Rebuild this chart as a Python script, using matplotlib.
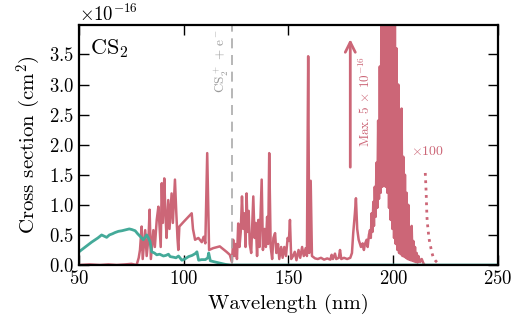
import numpy as np
import matplotlib
matplotlib.use("Agg")
import matplotlib.pyplot as plt

plt.rcParams['font.family'] = 'cmr10'
plt.rcParams['mathtext.fontset'] = 'cm'
plt.rcParams['axes.formatter.use_mathtext'] = True
plt.rcParams['axes.unicode_minus'] = False

RED = '#CC6677'
TEAL = '#44AA99'

# photoabsorption cross section (units of 1e-16 cm^2)
red_wl = [50, 55, 60, 64, 68, 72, 75, 77.5, 78.5, 79.1, 79.9, 80.4, 81.0, 81.6, 82.3, 83.2,
          83.7, 84.3, 85.5, 86.2, 87.1, 87.9, 88.5, 89.0, 89.5, 90.0, 90.7, 91.2, 91.8, 92.6,
          93.2, 94.2, 94.8, 95.8, 96.4, 97.0, 97.4, 97.9, 100.0, 103.8, 104.4, 105.4, 107.0,
          108.6, 109.5, 110.3, 111.2, 112.1, 114.0, 117.2, 120.4, 122.0, 123.0, 123.6, 124.2,
          124.8, 125.4, 126.0, 126.6, 127.2, 127.8, 128.4, 129.0, 129.5, 130.0, 130.5, 131.0,
          131.5, 132.2, 133.2, 133.8, 134.4, 135.0, 135.6, 136.2, 137.2, 137.8, 138.6, 139.2,
          139.8, 140.3, 140.8, 141.5, 142.2, 142.8, 143.6, 144.2, 145.0, 145.6, 146.5, 147.2,
          148.0, 148.8, 149.6, 150.2, 150.7, 151.3, 152.2, 153.0, 153.8, 154.8, 155.6, 156.5,
          157.3, 158.2, 158.8, 159.4, 159.9, 160.6, 161.2, 162.7, 164.0, 165.5, 167.0, 168.5,
          170.0, 170.6, 171.2, 172.2, 172.8, 174.0, 174.6, 175.2, 176.5, 178.0, 179.5, 180.3,
          180.9, 181.7, 182.2, 182.8, 183.5, 184.6, 185.4, 186.0, 186.5, 187.3, 187.8, 188.4,
          188.9, 189.3, 189.7, 190.1, 190.5, 190.8, 191.2, 191.6, 192.0, 192.4, 192.8, 193.2,
          193.6, 194.0, 194.4, 194.8, 195.2, 195.6, 196.0, 196.4, 196.8, 197.2, 197.6, 198.0,
          198.4, 198.8, 199.2, 199.6, 200.0, 200.4, 200.8, 201.2, 201.6, 202.0, 202.4, 202.8,
          203.2, 203.6, 204.0, 204.4, 204.8, 205.2, 205.6, 206.0, 206.4, 206.8, 207.2, 207.6,
          208.0, 208.4, 208.8, 209.2, 209.6, 210.0, 210.4, 210.8, 211.2, 211.6, 212.0, 212.8,
          213.6, 214.4, 215.0]
red_val = [0.0, 0.01, 0.0, 0.01, 0.0, 0.01, 0.02, 0.0, 0.12, 0.25, 0.64, 0.1, 0.35, 0.58, 0.15, 0.47,
           0.92, 0.1, 0.58, 0.3, 0.75, 0.97, 0.6, 0.3, 1.36, 0.7, 1.44, 0.9, 0.45, 1.08,
           0.6, 1.19, 0.7, 1.42, 0.9, 0.45, 0.25, 0.64, 0.72, 0.86, 0.6, 0.42, 0.45,
           0.38, 0.47, 0.36, 1.86, 0.25, 0.28, 0.31, 0.22, 0.17, 0.05, 0.42, 0.15,
           0.35, 0.1, 0.69, 0.3, 0.55, 1.14, 0.6, 0.86, 0.3, 1.19, 0.55, 0.9,
           0.35, 0.2, 1.14, 0.45, 0.7, 0.15, 0.75, 0.3, 1.42, 0.25, 0.6, 0.3,
           0.8, 0.35, 1.86, 0.3, 0.1, 0.45, 0.53, 0.2, 0.35, 0.1, 0.3, 0.12,
           0.3, 0.15, 0.45, 0.4, 0.75, 0.1, 0.15, 0.22, 0.08, 0.25, 0.12, 0.3,
           0.15, 0.28, 0.15, 3.47, 0.2, 1.40, 0.15, 0.11, 0.1, 0.12, 0.09, 0.11,
           0.09, 0.17, 0.1, 0.19, 0.1, 0.12, 0.25, 0.1, 0.12, 0.1, 0.12, 0.2,
           0.53, 0.86, 1.11, 0.6, 0.42, 0.3, 0.36, 0.25, 0.35, 0.42, 0.3, 0.5,
           0.58, 0.45, 0.86, 0.55, 1.05, 0.65, 1.3, 0.8, 1.7, 0.95, 2.4, 1.1,
           3.3, 1.2, 4.5, 1.3, 5.0, 1.35, 4.8, 1.3, 4.9, 1.2, 4.5, 0.95,
           4.7, 0.75, 4.2, 0.6, 4.4, 0.45, 4.0, 0.35, 3.6, 0.25, 3.0, 0.2,
           2.1, 0.18, 2.6, 0.15, 1.8, 0.14, 1.5, 0.12, 1.2, 0.1, 1.0, 0.09,
           0.6, 0.08, 0.65, 0.07, 0.4, 0.06, 0.3, 0.05, 0.2, 0.04, 0.15, 0.05,
           0.1, 0.03, 0.0]

# photoionization cross section
teal_wl = [50, 53, 56, 59, 60.8, 62, 63.2, 64.5, 66, 67.2, 68.8, 70.5, 72.8, 74, 75.2, 76.8,
           78, 79.1, 80.7, 82.3, 83.1, 83.9, 84.7, 86, 87.1, 88.5, 90.3, 91.5, 92.7, 93.5,
           95.1, 96.3, 97.5, 99.1, 100.5, 102.3, 104, 105.5, 106.3, 107.1, 108.5, 110.3,
           111.5, 111.9, 112.7, 115, 117.5, 120, 122.3, 250]
teal_val = [0.22, 0.3, 0.38, 0.45, 0.5, 0.48, 0.46, 0.5, 0.52, 0.54, 0.56, 0.57, 0.59, 0.6, 0.59, 0.57,
            0.52, 0.48, 0.42, 0.5, 0.45, 0.39, 0.22, 0.2, 0.17, 0.18, 0.15, 0.16, 0.18, 0.14,
            0.13, 0.12, 0.15, 0.08, 0.1, 0.14, 0.16, 0.19, 0.22, 0.08, 0.09, 0.09,
            0.12, 0.2, 0.07, 0.05, 0.03, 0.01, 0.0, 0.0]

# tail multiplied by 100
tail_wl = [215.3, 215.4, 215.5, 215.6, 215.7, 215.8, 215.9, 216.0, 216.1, 216.3, 216.6, 216.9,
           217.2, 217.6, 218.0, 218.5, 219.0, 219.6, 220.2, 220.8, 221.4, 222.0]
tail_val = [1.53, 1.45, 1.38, 1.3, 1.22, 1.12, 1.0, 0.9, 0.8, 0.7, 0.6, 0.5,
            0.42, 0.35, 0.28, 0.2, 0.14, 0.1, 0.07, 0.05, 0.03, 0.02]

ion_threshold = 123.0
scale = 1e-16

fig = plt.figure(figsize=(5.25, 3.24), dpi=100)
ax = fig.add_axes([0.1505, 0.182, 0.798, 0.741])

ax.plot(red_wl, np.array(red_val) * scale, color=RED, lw=1.8)
ax.plot(teal_wl, np.array(teal_val) * scale, color=TEAL, lw=2)
ax.plot(tail_wl, np.array(tail_val) * scale, color=RED, lw=2, ls=':')

ax.axvline(ion_threshold, color='#aaaaaa', ls=(0, (6, 4)), lw=1.2)
ax.text(118.0, 3.92e-16, r'CS$_2^+$ + e$^-$', rotation=90, color='#999999',
        fontsize=9.5, ha='center', va='top')

ax.annotate('', xy=(179.5, 3.8e-16), xytext=(179.5, 1.58e-16),
            arrowprops=dict(arrowstyle='->', color=RED, lw=2, mutation_scale=18))
ax.text(186.5, 2.72e-16, r'Max. 5 $\times$ 10$^{-16}$', rotation=90, color=RED,
        fontsize=9.5, ha='center', va='center')
ax.text(216.5, 1.88e-16, r'$\times$100', color=RED, fontsize=10, ha='center', va='center')

ax.text(0.026, 0.9, r'CS$_2$', transform=ax.transAxes, fontsize=16, ha='left', va='center')

ax.set_xlim(50, 250)
ax.set_ylim(0, 3.99e-16)
ax.set_xticks([50, 100, 150, 200, 250])
ax.set_yticks(np.arange(0, 3.6, 0.5) * scale)
ax.tick_params(direction='in', top=True, right=True, length=7, width=1, labelsize=13.5)
for s in ax.spines.values():
    s.set_linewidth(1.6)
ax.yaxis.get_offset_text().set_fontsize(13.5)

ax.set_xlabel('Wavelength (nm)', fontsize=15)
ax.set_ylabel(r'Cross section (cm$^2$)', fontsize=15)

fig.savefig('out.png', dpi=100)
